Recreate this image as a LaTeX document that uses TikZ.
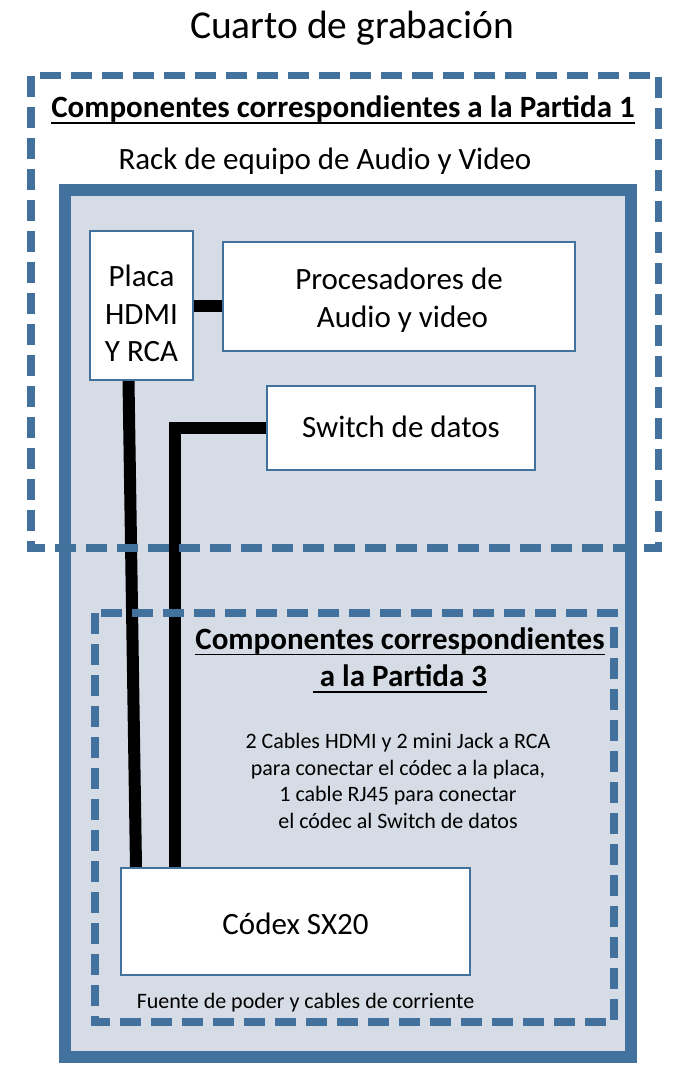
\documentclass[tikz,border=0pt]{standalone}
\usepackage{fontspec}
\setmainfont{Carlito}
\usetikzlibrary{calc}

\definecolor{borde}{HTML}{41719C}
\definecolor{fondo}{HTML}{D6DCE5}
\pgfdeclarelayer{rack}
\pgfdeclarelayer{cables}
\pgfsetlayers{rack,cables,main}

\newcommand{\subrayar}[1]{\setbox0=\hbox{#1}\leavevmode\rlap{\rule[-6pt]{\wd0}{1.6pt}}\box0}

\tikzstyle{texto}=[inner sep=0pt, align=center, font=\fontsize{31}{37.5}\selectfont]
\tikzstyle{titulo}=[texto, font=\bfseries\fontsize{31}{37.5}\selectfont]
\tikzstyle{chico}=[inner sep=0pt, align=center, font=\fontsize{22}{26.5}\selectfont]
\tikzstyle{equipo}=[texto, draw=borde, line width=2pt, fill=white, text depth=0pt]
\tikzstyle{cable}=[line width=12pt]
\tikzstyle{partida}=[draw=borde, line width=7.5pt, dash pattern=on 21pt off 10pt]

\begin{document}
\begin{tikzpicture}[x=1pt, y=-1pt]
      \useasboundingbox (0,0) rectangle (675,1065);

      % rack
      \begin{pgfonlayer}{rack}
        \draw[draw=borde, fill=fondo, line width=12pt] (65,190) rectangle (631,1057);
      \end{pgfonlayer}

      \node[texto, font=\fontsize{39.5}{47}\selectfont] (cuarto) at (352,28) {Cuarto de grabación};
      \node[titulo] (p1) at (343,110) {\subrayar{Componentes correspondientes a la Partida 1}};
      \node[texto] (rack) at (325,161) {Rack de equipo de Audio y Video};

      \node[equipo, minimum width=103pt, minimum height=149pt, text height=112pt] (placa) at (141.5,305.5) {Placa\\HDMI\\Y RCA};
      \node[equipo, minimum width=352pt, minimum height=109pt, text height=61pt] (proc) at (399,296.5) {Procesadores de\\\ Audio y video};
      \node[equipo, minimum width=268pt, minimum height=84pt, text height=18pt] (switch) at (401,428) {Switch de datos};
      \node[equipo, minimum width=349pt, minimum height=107pt, text height=25pt] (codec) at (295.5,921.5) {Códex SX20};

      \node[titulo] (p3) at (400,660) {\subrayar{Componentes correspondientes}\\\subrayar{\ a la Partida 3}};
      \node[chico] (desc) at (398,781) {2 Cables HDMI y 2 mini Jack a RCA\\para conectar el códec a la placa,\\1 cable RJ45 para conectar\\el códec al Switch de datos};
      \node[chico] (fuente) at (305.5,1003) {Fuente de poder y cables de corriente};

      % cables
      \begin{pgfonlayer}{cables}
        \draw[cable] (placa.east) -- (placa.east -| proc.west);
        \draw[cable] ([xshift=-13pt]placa.south) -- ([xshift=16pt]codec.north west);
        \draw[cable] (switch.west) -| ([xshift=55pt]codec.north west);
      \end{pgfonlayer}

      % partidas
      \draw[partida] (31,75.5) rectangle (658.5,548);
      \draw[partida] (95,613) rectangle (614,1022);
    \end{tikzpicture}
\end{document}
